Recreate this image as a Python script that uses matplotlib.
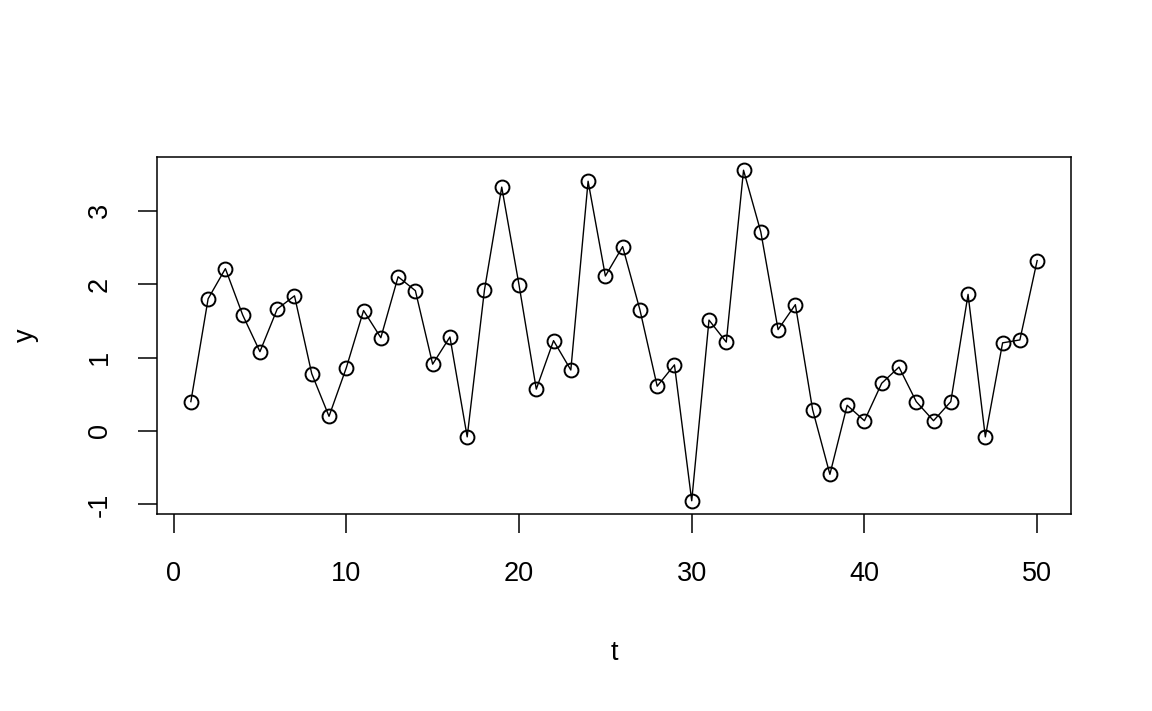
import numpy as np
import matplotlib.pyplot as plt

plt.rcParams['font.family'] = ['Liberation Sans', 'DejaVu Sans']

t = np.arange(1, 51)
y = [0.40, 1.80, 2.21, 1.58, 1.08, 1.66, 1.84, 0.78, 0.20, 0.86,
     1.64, 1.27, 2.10, 1.91, 0.91, 1.28, -0.08, 1.92, 3.32, 1.99,
     0.57, 1.23, 0.83, 3.40, 2.11, 2.51, 1.65, 0.61, 0.90, -0.95,
     1.51, 1.21, 3.55, 2.71, 1.38, 1.72, 0.29, -0.59, 0.35, 0.14,
     0.65, 0.87, 0.40, 0.14, 0.40, 1.86, -0.08, 1.20, 1.24, 2.32]
xticks = [0, 10, 20, 30, 40, 50]
yticks = [-1, 0, 1, 2, 3]

fig = plt.figure(figsize=(11.52, 7.11), dpi=100)
ax = fig.add_axes([157/1152, 1 - 514/711, 914/1152, 357/711])

ax.plot(t, y, color='black', lw=1.0, marker='o', ms=10, mfc='none',
        mec='black', mew=1.4)

# R-style 4% padding
xr = t.max() - t.min()
ax.set_xlim(t.min() - 0.04 * xr, t.max() + 0.04 * xr)
yr = max(y) - min(y)
ax.set_ylim(min(y) - 0.04 * yr, max(y) + 0.04 * yr)

ax.set_xticks(xticks)
ax.set_yticks(yticks)
ax.set_yticklabels([str(v) for v in yticks], rotation=90, va='center')
ax.tick_params(direction='out', length=14, width=1.1, labelsize=19.5)
ax.tick_params(axis='x', pad=20)
ax.tick_params(axis='y', pad=18)
for s in ax.spines.values():
    s.set_linewidth(1.1)

ax.set_xlabel('t', fontsize=19.5, labelpad=38)
ax.set_ylabel('y', fontsize=19.5, labelpad=34)

fig.savefig('out.png', dpi=100)
